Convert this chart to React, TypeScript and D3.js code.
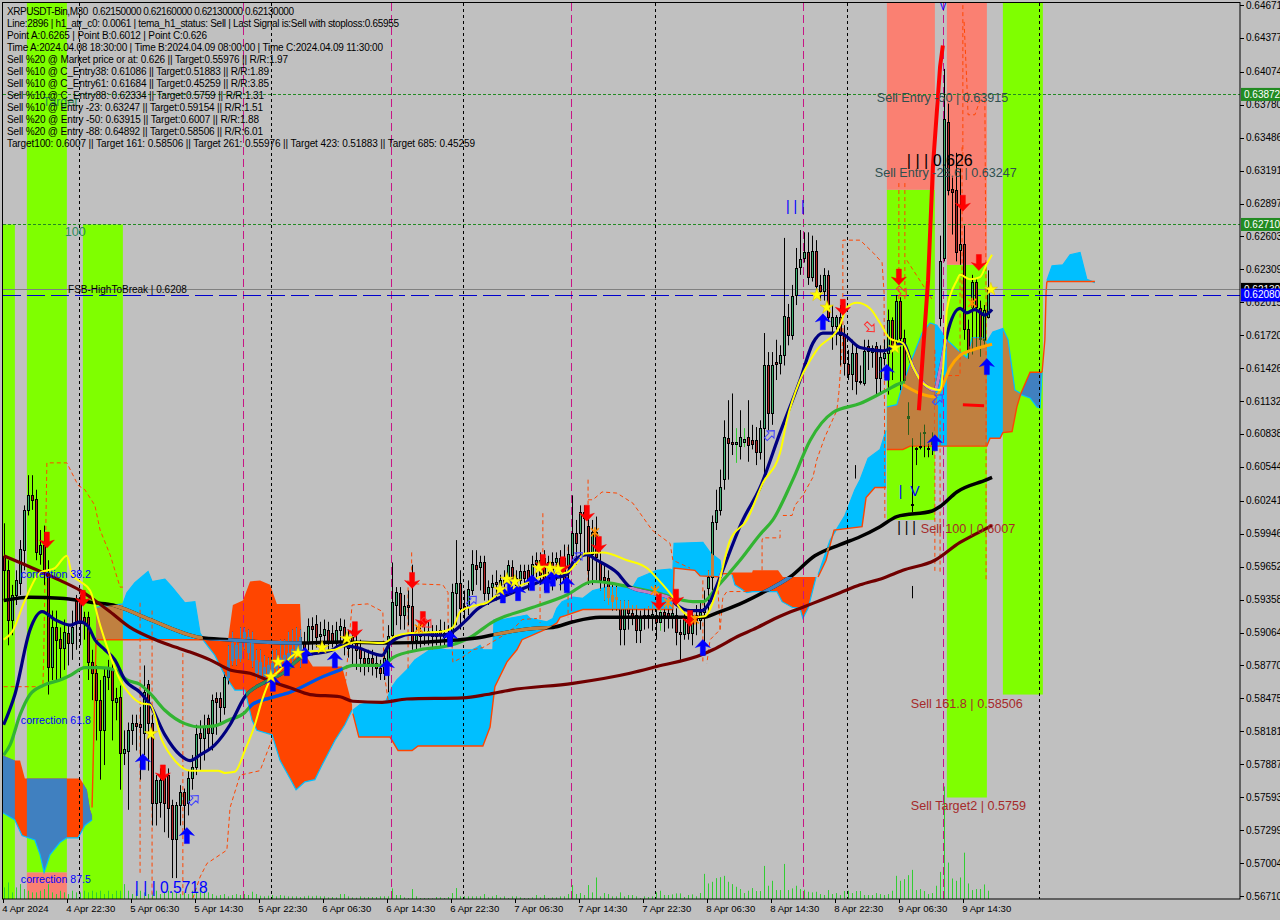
import React from "react";
import * as d3 from "d3";

type P = [number, number];
type Row = [number, number, number, number];

// Prices are in 1/10000 of a USDT; position on the time axis is the bar number (one bar = 30 minutes).
const candlesA: Row[] = [
[5975,6004,5935,5962],[5962,5971,5895,5918],[5918,5949,5904,5940],[5940,5962,5931,5953],[5951,5989,5940,5981],
[5980,6020,5962,6016],[6016,6047,6011,6029],[6029,6047,6016,6025],[6026,6034,5971,5978],[5977,5998,5967,5985],
[5985,6002,5949,5962],[5960,5971,5851,5876],[5876,5926,5864,5911],[5911,5926,5864,5900],[5901,5911,5864,5893],
[5893,5918,5873,5907],[5906,5913,5877,5897],[5897,5926,5882,5911],[5935,5940,5891,5916],[5935,5940,5895,5915],
[5920,5925,5900,5915],[5920,5925,5864,5880],[5880,5891,5846,5870],[5870,5877,5810,5846],[5846,5864,5775,5819],
[5819,5875,5788,5868],[5867,5882,5855,5876],[5873,5880,5810,5846],[5844,5857,5828,5848],[5849,5859,5766,5799],
[5799,5819,5788,5802],[5801,5826,5748,5819],[5819,5833,5806,5826],[5826,5833,5801,5823],[5825,5840,5775,5822],
[5817,5877,5797,5853],[5860,5864,5783,5826],[5826,5833,5734,5754],[5754,5779,5734,5775],[5755,5785,5741,5775],
[5779,5783,5728,5754],[5779,5785,5723,5750],[5752,5757,5687,5722],[5722,5755,5687,5752],[5752,5770,5734,5764],
[5764,5767,5730,5752],[5754,5783,5743,5776],[5776,5797,5766,5786],[5786,5824,5779,5816],[5817,5828,5783,5812],
];
const candlesB: Row[] = [
[5812,5833,5792,5822],[5830,5833,5801,5817],[5817,5851,5801,5846],[5848,5853,5815,5844],[5848,5853,5824,5840],
[5840,5871,5833,5867],[5867,5895,5860,5882],[5882,5907,5877,5897],[5895,5900,5877,5884],[5884,5911,5880,5897],
[5902,5911,5891,5907],[5902,5909,5882,5889],[5900,5907,5875,5882],[5882,5891,5864,5871],[5880,5891,5864,5868],
[5867,5886,5860,5876],[5877,5884,5864,5870],[5871,5891,5868,5879],[5879,5891,5868,5875],[5876,5900,5873,5884],
[5882,5900,5875,5886],[5888,5907,5877,5882],[5884,5909,5875,5892],[5886,5911,5882,5898],[5889,5909,5875,5902],
[5898,5907,5886,5893],[5898,5919,5889,5912],[5912,5920,5891,5910],[5914,5922,5893,5902],[5903,5916,5891,5905],
[5904,5918,5893,5910],[5909,5916,5891,5897],[5906,5913,5893,5897],[5897,5916,5893,5909],[5909,5919,5895,5912],
[5911,5918,5886,5900],[5893,5909,5884,5902],[5902,5909,5877,5897],[5897,5904,5873,5891],[5892,5900,5871,5884],
[5884,5891,5868,5879],[5879,5891,5871,5884],[5884,5891,5868,5879],[5879,5886,5866,5875],[5875,5882,5864,5870],
[5870,5891,5864,5884],[5882,5913,5853,5903],[5904,5969,5900,5934],[5931,5947,5913,5943],[5942,5947,5909,5922],
];
const candlesC: Row[] = [
[5922,5940,5909,5930],[5931,5944,5913,5929],[5930,5967,5891,5898],[5900,5913,5891,5904],[5907,5913,5893,5903],
[5904,5918,5895,5907],[5908,5916,5895,5905],[5907,5913,5891,5903],[5903,5913,5895,5907],[5909,5918,5893,5904],
[5902,5916,5895,5906],[5906,5913,5895,5900],[5904,5950,5895,5943],[5942,5989,5913,5951],[5951,5962,5909,5928],
[5930,5944,5918,5927],[5929,5953,5922,5945],[5944,5980,5940,5968],[5967,5980,5949,5963],[5965,5975,5944,5969],
[5969,5975,5935,5942],[5942,5953,5931,5947],[5947,5958,5935,5951],[5952,5962,5935,5950],[5949,5958,5940,5953],
[5953,5962,5935,5951],[5953,5971,5944,5967],[5965,5971,5944,5953],[5949,5962,5940,5955],[5953,5967,5944,5961],
[5961,5967,5949,5955],[5962,5967,5944,5953],[5958,5975,5949,5968],[5968,5978,5953,5971],[5971,5978,5949,5958],
[5973,5980,5944,5953],[5964,5975,5949,5969],[5969,5978,5944,5960],[5969,5978,5953,5973],[5973,5980,5944,5961],
[5973,5985,5944,5953],[5965,5985,5953,5977],[5976,6029,5971,5995],[5995,6007,5967,5986],[5995,6020,5971,6014],
[6014,6020,5975,6009],[6002,6016,5949,5962],[5977,6007,5949,5996],[5996,6010,5953,5974],[5969,5980,5944,5953],
];
const candlesD: Row[] = [
[5956,5967,5935,5953],[5955,5962,5931,5938],[5940,5949,5926,5935],[5936,5950,5926,5938],[5927,5935,5895,5910],
[5910,5935,5895,5927],[5928,5935,5909,5924],[5924,5931,5913,5920],[5922,5931,5897,5909],[5909,5926,5897,5919],
[5919,5928,5909,5922],[5922,5930,5910,5920],[5920,5932,5908,5923],[5922,5931,5900,5916],[5916,5930,5908,5925],
[5925,5931,5907,5922],[5924,5933,5910,5920],[5920,5933,5910,5924],[5922,5928,5895,5907],[5907,5918,5882,5905],
[5905,5925,5900,5919],[5919,5922,5900,5906],[5906,5925,5895,5919],[5922,5931,5904,5918],[5918,5935,5909,5925],
[5925,5944,5893,5928],[5946,5962,5925,5956],[5956,6011,5944,6005],[6005,6034,5998,6016],[6016,6052,6011,6036],
[6044,6096,6034,6081],[6080,6114,6043,6076],[6077,6120,6065,6075],[6075,6089,6058,6077],[6073,6105,6061,6081],
[6077,6089,6072,6079],[6081,6114,6059,6074],[6078,6092,6070,6075],[6078,6090,6056,6068],[6068,6096,6061,6089],
[6089,6174,6043,6145],[6145,6157,6087,6103],[6103,6157,6092,6145],[6148,6168,6132,6146],[6147,6163,6137,6154],
[6154,6259,6145,6189],[6188,6200,6163,6172],[6172,6217,6168,6207],[6208,6250,6199,6232],[6233,6266,6226,6240],
];
const candlesE: Row[] = [
[6241,6264,6237,6246],[6246,6264,6217,6224],[6224,6261,6220,6247],[6247,6257,6208,6216],[6217,6226,6203,6212],
[6212,6232,6203,6226],[6226,6230,6184,6188],[6180,6199,6159,6188],[6180,6190,6163,6188],[6188,6199,6145,6172],
[6172,6181,6136,6147],[6146,6159,6132,6137],[6137,6168,6123,6156],[6156,6163,6119,6131],[6131,6145,6128,6130],
[6129,6168,6127,6158],[6162,6168,6141,6158],[6157,6163,6143,6161],[6162,6166,6119,6134],[6134,6163,6119,6153],
[6152,6168,6145,6156],[6156,6195,6119,6186],[6186,6188,6132,6163],[6168,6208,6159,6203],[6203,6206,6123,6170],
[6170,6177,6128,6132],[6098,6112,6083,6100],[6020,6080,6014,6021],[6070,6072,6056,6071],[6072,6085,6070,6073],
[6085,6092,6063,6086],[6070,6075,6063,6071],[6075,6085,6065,6079],[6080,6120,6070,6110],[6187,6261,6180,6238],
[6241,6410,6238,6365],[6363,6379,6297,6302],[6303,6313,6262,6300],[6302,6335,6238,6246],[6248,6321,6235,6254],
[6254,6270,6168,6178],[6178,6186,6151,6157],[6197,6226,6155,6220],[6220,6222,6159,6197],[6196,6203,6153,6169],
[6168,6199,6163,6195],[6188,6230,6187,6215],
];
const limeWickBars = [164, 183, 185];

const volumesA = [35,50,20,35,45,30,25,20,20,25,30,45,20,15,25,20,15,25,20,20,25,20,25,20,25,15,25,15,25,25,45,25,15,25,25,20,15,20,25,15,20,25,20,18,15,20,15,25,20,35,25,20,15,10,12,15,8,12,15,12,15,12,22,15,10,8,10,12,8,12,10,8,8,8,6,8,10,8,10,8];
const volumesB = [8,5,6,5,15,15,8,5,4,8,5,6,6,6,8,8,8,32,12,12,5,3,30,8,3,3,3,2,6,5,3,6,18,33,8,8,8,8,8,8,15,5,8,12,5,8,3,8,8,5,3,3,5,12,5,12,3,5,5,8,8,15,42,15,18,12,42,20,65,8,18,15,8,8,20,8,12,12,8,3];
const volumesC = [8,6,8,20,25,12,12,14,17,17,6,12,14,8,18,76,47,52,63,66,70,52,45,37,30,18,25,33,24,24,100,40,55,27,27,106,27,32,40,30,28,22,20,22,15,12,27,15,18,12,24,25,18,24,24,12,12,12,18,15,12,15,25,70,55,60,72,88,27,30,24,15,18,40,82,340,110,62,55,65,140,47,27,30,30,44,25];

// Moving averages: [bar, price]
const maBlack: P[] = [[0,5935],[6.6,5938],[14.1,5937],[19.1,5935],[22.8,5933],[27.3,5931],[29.8,5928],[36.6,5918],[49.1,5902],[56.1,5900],[74.1,5897],[84.1,5898],[95.8,5897],[114.1,5900],[119.1,5902],[123.3,5905],[132.3,5910],[137.3,5911],[142.3,5916],[149.1,5920],[163.3,5920],[174.8,5920],[178.3,5924],[184.1,5932],[190.3,5943],[196.6,5956],[202.8,5975],[209.1,5985],[214.1,5992],[219.1,6001],[223.3,6010],[232.1,6015],[234.1,6019],[238.3,6032],[245.8,6043],[247.1,6045]];
const maDarkRed: P[] = [[0,5975],[6.6,5965],[14.1,5953],[19.1,5944],[22.8,5935],[26.6,5925],[31.6,5911],[36.6,5902],[41.6,5895],[46.6,5889],[51.6,5882],[56.6,5873],[61.6,5870],[66.6,5863],[71.6,5857],[76.6,5851],[84.1,5849],[87.3,5845],[94.6,5844],[100.8,5847],[114.8,5848],[120.8,5851],[126.6,5855],[142.3,5861],[156.6,5870],[163.3,5876],[174.8,5887],[177.3,5891],[184.1,5904],[187.3,5909],[194.1,5921],[199.8,5929],[204.1,5935],[209.1,5942],[214.1,5949],[219.8,5955],[224.8,5962],[232.8,5971],[239.1,5987],[243.3,5995],[247.1,6002]];
const maGreen: P[] = [[0,5797],[1.6,5806],[4.1,5833],[6.6,5851],[9.8,5859],[14.1,5864],[16.6,5868],[20.3,5875],[24.1,5875],[27.8,5873],[30.8,5864],[34.1,5860],[36.6,5852],[40.3,5837],[45.3,5825],[49.1,5822],[52.8,5823],[56.1,5828],[60.3,5835],[62.1,5842],[66.6,5848],[71.6,5853],[79.8,5867],[84.1,5873],[87.3,5877],[94.8,5877],[97.3,5884],[104.1,5891],[111.6,5895],[116.6,5902],[122.3,5916],[131.6,5928],[140.8,5940],[147.3,5952],[150.8,5951],[156.6,5947],[163.3,5942],[172.3,5934],[174.8,5934],[178.3,5947],[184.1,5971],[189.1,5994],[192.3,6007],[197.3,6043],[201.6,6078],[207.3,6103],[214.1,6111],[220.8,6123],[224.1,6129],[225.3,6130]];
const maNavy: P[] = [[0,5824],[2.8,5851],[6.6,5909],[9.6,5925],[12.8,5918],[16.6,5913],[19.1,5916],[21.1,5912],[22.8,5900],[25.3,5891],[27.8,5882],[30.3,5864],[34.1,5853],[36.6,5842],[40.3,5815],[44.1,5797],[46.6,5792],[49.1,5797],[52.8,5806],[56.6,5824],[60.3,5849],[65.3,5862],[69.8,5870],[74.8,5885],[82.3,5891],[84.1,5895],[88.3,5893],[94.6,5886],[96.6,5897],[98.6,5902],[102.1,5905],[109.8,5904],[112.3,5907],[115.8,5918],[118.3,5927],[121.6,5934],[125.8,5940],[130.8,5947],[135.8,5954],[140.8,5958],[142.3,5969],[145.8,5976],[148.3,5971],[153.3,5960],[156.6,5947],[161.6,5942],[166.6,5937],[168.3,5931],[171.6,5926],[174.6,5926],[176.6,5934],[179.1,5956],[184.8,6007],[189.1,6036],[194.1,6085],[199.1,6132],[202.3,6165],[204.8,6174],[209.1,6174],[214.1,6161],[219.8,6158],[222.1,6161],[224.8,6165],[227.3,6144],[230.3,6128],[232.8,6123],[234.1,6141],[235.8,6172],[239.1,6196],[240.8,6192],[242.8,6195],[245.3,6190],[247.1,6195]];
const maYellow: P[] = [[0,5900],[2.1,5907],[5.3,5935],[9.1,5960],[12.8,5964],[15.8,5975],[17.1,5958],[19.1,5952],[21.6,5944],[24.1,5913],[26.6,5886],[29.1,5864],[31.6,5851],[34.6,5843],[36.6,5842],[39.6,5810],[42.8,5792],[46.6,5783],[53.6,5783],[55.3,5781],[57.8,5782],[60.3,5801],[62.8,5824],[64.6,5846],[66.6,5864],[69.1,5873],[71.6,5884],[74.1,5889],[82.8,5891],[84.1,5893],[88.3,5898],[94.8,5897],[97.8,5903],[101.6,5906],[109.1,5907],[112.3,5911],[114.1,5925],[117.3,5930],[120.8,5933],[123.3,5940],[128.3,5947],[135.8,5958],[140.8,5960],[143.3,5969],[145.3,5977],[149.8,5978],[155.8,5971],[160.8,5964],[163.3,5955],[167.3,5938],[169.1,5928],[172.3,5920],[175.3,5921],[178.3,5944],[181.6,5989],[185.8,6007],[189.8,6040],[194.1,6067],[195.8,6096],[199.1,6132],[203.3,6159],[209.1,6181],[210.8,6197],[213.3,6201],[216.6,6196],[219.1,6183],[221.6,6169],[224.8,6165],[227.3,6144],[229.8,6129],[234.1,6123],[235.3,6165],[235.8,6195],[238.3,6221],[239.1,6226],[241.6,6222],[244.1,6224],[245.8,6236],[247.1,6244]];
const maOrange: P[] = [[224.8,6128],[229.1,6120],[232.8,6117],[234.6,6126],[236.6,6143],[239.1,6154],[242.3,6159],[247.1,6164]];
const zigzagRed: P[] = [[228.8,6105],[231.1,6221],[232.3,6322],[234.1,6412],[234.8,6431]];
const shortRed: P[] = [[239.8,6110],[245.1,6109]];

// Cloud outlines: upper and lower edge, [bar, price]
const cloud1Top: P[] = [[-0.5,5797],[2.8,5792],[4.1,5792],[5.3,5776],[15.8,5776],[19.1,5776],[20.8,5766],[21.6,5748],[22.1,5743]];
const cloud1Bottom: P[] = [[-0.5,5746],[2.8,5739],[4.6,5725],[7.8,5721],[9.1,5708],[10.1,5692],[11.6,5708],[14.1,5719],[15.8,5723],[18.6,5723],[20.3,5734],[22.1,5739]];
const cloud2Top: P[] = [[23.1,5929],[29.8,5932],[30.8,5942],[32.8,5951],[36.1,5961],[37.1,5952],[40.3,5954],[42.1,5947],[45.3,5933],[47.8,5934],[49.1,5906],[49.8,5902]];
const cloud2Bottom: P[] = [[23.1,5900],[49.8,5900]];
const cloud3Top: P[] = [[49.8,5900],[56.1,5900],[57.3,5931],[59.8,5935],[61.6,5952],[64.1,5953],[66.6,5949],[68.3,5932],[74.1,5932],[74.6,5891],[77.3,5876],[84.6,5876],[87.1,5842]];
const cloud3Bottom: P[] = [[49.8,5900],[52.8,5886],[55.3,5868],[57.8,5855],[60.3,5855],[62.1,5828],[63.3,5819],[67.1,5815],[69.1,5792],[71.6,5776],[73.1,5766],[75.3,5773],[77.8,5775],[79.6,5788],[82.8,5810],[85.3,5824],[87.1,5837]];
const cloud4Top: P[] = [[87.3,5837],[89.1,5842],[91.6,5844],[95.3,5843],[97.1,5858],[98.3,5864],[100.8,5873],[102.8,5882],[105.3,5888],[107.3,5893],[110.8,5891],[117.1,5891],[118.3,5893],[119.1,5895],[119.8,5891],[122.3,5891],[122.6,5918],[124.8,5918],[130.8,5922],[131.6,5919],[135.8,5916],[137.3,5919],[138.3,5928],[139.6,5934],[142.3,5938],[144.8,5937],[147.3,5944],[150.8,5947],[157.3,5947],[158.6,5955],[163.3,5962],[166.6,5963],[167.3,5962],[167.6,5986],[174.8,5987],[176.6,5978],[179.1,5971],[179.6,5956]];
const cloud4Bottom: P[] = [[87.3,5834],[88.8,5813],[96.6,5813],[98.6,5801],[102.1,5801],[103.6,5805],[119.8,5805],[121.6,5822],[122.8,5858],[125.8,5880],[128.3,5891],[129.6,5900],[136.6,5911],[138.3,5915],[139.1,5920],[140.8,5922],[144.8,5927],[167.3,5927],[167.6,5964],[172.8,5962],[174.1,5957],[179.6,5956]];
const cloud5Top: P[] = [[182.1,5960],[187.1,5960],[187.3,5962],[193.6,5962],[194.8,5956],[203.1,5956]];
const cloud5Bottom: P[] = [[182.1,5958],[182.8,5949],[185.8,5942],[187.3,5943],[193.3,5943],[194.6,5934],[197.1,5929],[199.1,5928],[199.8,5919],[201.1,5928],[203.1,5956]];
const cloud6Top: P[] = [[203.6,5958],[206.6,5989],[210.3,6011],[212.8,6034],[214.1,6043],[216.1,6062],[219.1,6070],[220.6,6087]];
const cloud6Bottom: P[] = [[203.6,5956],[205.6,5971],[207.6,5998],[214.6,6001],[215.6,6027],[217.8,6036],[220.6,6036]];
const cloud7Top: P[] = [[220.8,6108],[223.3,6110],[224.8,6129],[227.3,6153],[229.6,6174],[231.6,6183],[233.3,6181],[235.8,6168],[239.1,6157],[240.8,6152],[242.1,6170],[244.8,6170],[245.8,6166],[247.3,6175],[249.8,6178],[251.1,6168],[252.8,6123],[254.3,6120]];
const cloud7Bottom: P[] = [[220.8,6070],[224.8,6070],[226.6,6073],[245.8,6073],[246.6,6080],[249.1,6080],[249.8,6085],[252.1,6086],[253.3,6108],[254.3,6120]];
const cloud8Top: P[] = [[254.3,6120],[256.6,6139],[259.6,6139]];
const cloud8Bottom: P[] = [[254.3,6119],[256.6,6116],[258.3,6108],[259.1,6107],[259.6,6139]];
const cloud9Top: P[] = [[260.8,6221],[262.1,6234],[264.8,6235],[266.6,6244],[269.1,6246],[270.8,6222],[272.8,6219]];
const cloud9Bottom: P[] = [[260.8,6220],[272.8,6220]];
const riserLeft: P[] = [[22.1,5750],[23.1,5900]];
const riserRight: P[] = [[259.6,6139],[259.8,6147],[260.3,6168],[260.6,6210],[260.8,6220]];
const cloudLink: P[] = [[179.6,5959],[182.1,5959]];

// Coloured session bands: [startBar, endBar, lowPrice, highPrice]
const greenBands: Row[] = [[-0.5,2.8,5640,6271],[5.8,15.8,5692,6490],[19.8,29.8,5640,6271],[220.8,232.8,6007,6302],[235.8,245.8,5759,6235],[249.8,259.8,5851,6490]];
const salmonBands: Row[] = [[5.8,15.8,5640,5692],[220.8,232.8,6302,6490],[235.8,245.8,6235,6490]];

const blackVerticals = [18.8,66.8,114.8,162.8,210.8,258.8];
const magentaVerticals = [59.8,96.8,141.8,199.8,234.8];

// Thin dashed envelopes: [bar, price]
const dashA: P[] = [[0,5858],[9.8,5858],[10,5882],[10.8,6058],[15.8,6058],[18.6,6038],[20.3,6034],[22.8,6020],[24.1,5998],[26.6,5976],[29.1,5947],[29.8,5947]];
const dashB: P[] = [[34.1,5933],[34.1,5691]];
const dashC: P[] = [[37.1,5926],[37.1,5669]];
const dashD: P[] = [[44.8,5888],[44.8,5669]];
const dashE: P[] = [[47.3,5669],[49.1,5688],[50.8,5700],[55.8,5712],[56.6,5750],[59.1,5779],[64.1,5783],[67.3,5813]];
const dashF: P[] = [[85.3,5855],[87.1,5931],[91.1,5932],[94.8,5925],[95.1,5871],[96.1,5846]];
const dashG: P[] = [[102,5978],[102,5950],[109.8,5949],[111.1,5942],[111.1,5902]];
const dashH: P[] = [[101.1,5953],[101.1,5873]];
const dashI: P[] = [[112,5902],[112.3,5880],[114.6,5884],[117.3,5891],[119.8,5893],[124.1,5902],[127.8,5911],[129.6,5918],[133.3,5919]];
const dashJ: P[] = [[134.8,6013],[134.8,5953]];
const dashK: P[] = [[134.1,5947],[134.1,5915]];
const dashL: P[] = [[141.1,5983],[141.1,5920]];
const dashM: P[] = [[146.1,6043],[146.1,5951]];
const dashN: P[] = [[146.1,6025],[147.3,6025],[149.6,6032],[153.3,6031],[157.3,6022],[162.1,5998],[166.6,5986],[167.3,5971],[171.6,5964]];
const dashO: P[] = [[174.8,5953],[174.8,5879]];
const dashP: P[] = [[179.1,5909],[179.8,5938],[180.8,5943],[185.8,5943]];
const dashQ: P[] = [[178.6,5944],[179.1,5909],[176.6,5900],[175.8,5879]];
const dashR: P[] = [[194.8,6011],[197.1,6011],[197.8,6020],[199.8,6029],[202.3,6045],[203.3,6061],[205.3,6081],[208.3,6105],[208.8,6121],[209.8,6170],[209.8,6257],[214.1,6257],[217.3,6246],[219.6,6237],[220.1,6210],[220.3,6007]];
const dashS: P[] = [[223.8,6308],[223.8,6203]];
const dashT: P[] = [[225.3,6308],[225.3,6203]];
const dashU: P[] = [[225.8,6239],[232.3,6203]];
const dashV: P[] = [[236.1,6136],[239.1,6136],[239.1,6226]];
const dashW: P[] = [[239.6,6340],[239.6,6203]];
const dashX: P[] = [[239.8,6467],[239.8,6329]];
const dashY: P[] = [[240.1,6452],[240.8,6397],[241.1,6369],[242.8,6369],[244.1,6382],[245.3,6382],[245.6,6203],[245.6,5953]];
const dashZ: P[] = [[232.8,6159],[232.8,5960]];
const dashAA: P[] = [[234.1,6102],[234.1,5960]];
const dashAB: P[] = [[189.6,5962],[189.6,5989],[189.8,5991],[194.1,5991],[194.1,5998]];

// Signal markers: [bar, price]
const redArrows: P[] = [[10.8,5989],[19.8,5937],[39.8,5781],[87.8,5909],[102.1,5953],[104.8,5918],[134.8,5969],[139.8,5967],[145.8,6013],[148.8,5985],[163.8,5934],[168.1,5938],[171.6,5919],[209.8,6197],[223.8,6224],[239.8,6290],[243.8,6237]];
const blueArrows: P[] = [[34.8,5791],[45.8,5725],[67.3,5861],[70.8,5875],[75.3,5886],[82.8,5882],[95.8,5875],[111.6,5901],[124.8,5940],[126.6,5949],[128.6,5942],[132.1,5951],[135.8,5949],[137.3,5955],[140.8,5949],[174.8,5893],[204.8,6184],[220.8,6139],[232.8,6076],[245.8,6144]];
const stars: P[] = [[36.8,5816],[66.8,5867],[68.6,5880],[73.6,5888],[79.6,5893],[85.8,5901],[124.1,5945],[125.8,5954],[127.8,5952],[133.8,5964],[136.6,5964],[138.6,5963],[203.3,6208],[205.8,6197],[222.8,6161],[246.8,6213]];
const orangeCrosses: P[] = [[103.8,5910],[147.8,5996],[162.8,5944],[166.1,5933],[172.8,5918],[242.1,6201]];
const hollowBlue: P[] = [[47.6,5757],[117.1,5935],[143.6,5974],[191.6,6083],[233.6,6115]];
const hollowRed: P[] = [[105.8,5915],[216.6,6179],[224.6,6211]];
const strayTicks: Row[] = [[212.8,6056,6044,0],[227.1,5948,5937,0]];

const priceTicks = [6467.1,6437.7,6407.4,6378.0,6348.6,6319.1,6289.7,6260.3,6230.9,6201.5,6172.0,6142.6,6113.2,6083.8,6054.4,6024.1,5994.6,5965.2,5935.8,5906.4,5877.0,5847.5,5818.1,5788.7,5759.3,5729.9,5700.4,5671.0];
const timeTicks = [0,16,32,48,64,80,96,112,128,144,160,176,192,208,224,240];
const timeLabels = ["4 Apr 2024","4 Apr 22:30","5 Apr 06:30","5 Apr 14:30","5 Apr 22:30","6 Apr 06:30","6 Apr 14:30","6 Apr 22:30","7 Apr 06:30","7 Apr 14:30","7 Apr 22:30","8 Apr 06:30","8 Apr 14:30","8 Apr 22:30","9 Apr 06:30","9 Apr 14:30"];

const infoLines = [
"XRPUSDT-Bin,M30  0.62150000 0.62160000 0.62130000 0.62130000",
"Line:2896 | h1_atr_c0: 0.0061 | tema_h1_status: Sell | Last Signal is:Sell with stoploss:0.65955",
"Point A:0.6265 | Point B:0.6012 | Point C:0.626",
"Time A:2024.04.08 18:30:00 | Time B:2024.04.09 08:00:00 | Time C:2024.04.09 11:30:00",
"Sell %20 @ Market price or at: 0.626 || Target:0.55976 || R/R:1.97",
"Sell %10 @ C_Entry38: 0.61086 || Target:0.51883 || R/R:1.89",
"Sell %10 @ C_Entry61: 0.61684 || Target:0.45259 || R/R:3.85",
"Sell %10 @ C_Entry88: 0.62334 || Target:0.5759 || R/R:1.31",
"Sell %10 @ Entry -23: 0.63247 || Target:0.59154 || R/R:1.51",
"Sell %20 @ Entry -50: 0.63915 || Target:0.6007 || R/R:1.88",
"Sell %20 @ Entry -88: 0.64892 || Target:0.58506 || R/R:6.01",
"Target100: 0.6007 || Target 161: 0.58506 || Target 261: 0.55976 || Target 423: 0.51883 || Target 685: 0.45259",
];
const infoWidths = [287,392,200,376,281,262,262,257,256,252,256,468];

type Note = [number, number, string, string, number];
const notes: Note[] = [
[218.3,6380,"Sell Entry -50 | 0.63915","#2F4F4F",12.6],
[217.8,6313,"Sell Entry -23.6 | 0.63247","#2F4F4F",12.6],
[225.8,6323,"| | | 0.626","#000000",16],
[229.3,5995,"Sell 100 | 0.6007","#A52A2A",12.6],
[226.8,5839,"Sell 161.8 | 0.58506","#A52A2A",12.6],
[226.8,5748,"Sell Target2 | 0.5759","#A52A2A",12.6],
[4.3,5955,"correction 38.2","#0000FF",10.6],
[4.3,5825,"correction 61.8","#0000FF",10.6],
[4.3,5683,"correction 87.5","#0000FF",10.6],
[32.8,5674,"| | | 0.5718","#0000FF",15.6],
[15.3,6261,"100","#2E8B57",12.6],
[9.8,6377,"Target","#2E8B57",12.6],
[16.1,6210,"FSB-HighToBreak | 0.6208","#000000",10],
[195.6,6283,"| | |","#0000FF",14],
[223.8,6028,"|  V","#0000FF",14],
[223.4,5996,"| | |","#000000",14],
[234,6463,"V","#0000FF",10],
];

const candles: Row[] = [...candlesA, ...candlesB, ...candlesC, ...candlesD, ...candlesE];
const volumes = [...volumesA, ...volumesB, ...volumesC];

const x = d3.scaleLinear().domain([0, 100]).range([3.67, 403.67]);
const y = d3.scaleLinear().domain([5671, 6467.1]).range([896, 5]);
const volY = d3.scaleLinear().domain([0, 340]).range([899, 786.5]);
const line = d3.line<P>().x((d) => x(d[0])).y((d) => y(d[1]));
const smooth = d3.line<P>().x((d) => x(d[0])).y((d) => y(d[1])).curve(d3.curveMonotoneX);
const poly = (top: P[], bottom: P[]) => line([...top, ...[...bottom].reverse()])! + "Z";

const cyanClouds = [[cloud2Top, cloud2Bottom],[cloud4Top, cloud4Bottom],[cloud6Top, cloud6Bottom],[cloud7Top, cloud7Bottom],[cloud9Top, cloud9Bottom]];
const redClouds = [[cloud1Top, cloud1Bottom],[cloud3Top, cloud3Bottom],[cloud5Top, cloud5Bottom],[cloud8Top, cloud8Bottom]];
const cyanPath = cyanClouds.map(([t, b]) => poly(t, b)).join("");
const redPath = redClouds.map(([t, b]) => poly(t, b)).join("");
const orangeEdges = [cloud2Bottom, cloud4Bottom, cloud6Bottom, cloud7Bottom, cloud8Top, cloud9Bottom, cloud3Top.slice(0, 2), riserLeft, riserRight, cloudLink];
const cyanEdges = [cloud1Bottom, cloud2Top, cloud3Bottom, cloud4Top, cloud5Bottom, cloud6Top, cloud7Top, cloud8Bottom, cloud9Top];
const dashes = [dashA,dashB,dashC,dashD,dashE,dashF,dashG,dashH,dashI,dashJ,dashK,dashL,dashM,dashN,dashO,dashP,dashQ,dashR,dashS,dashT,dashU,dashV,dashW,dashX,dashY,dashZ,dashAA,dashAB];

const FONT = "'Liberation Sans', Arial, sans-serif";
const UP_ARROW = "M0,-8L7.5,0L2.5,-1.5L2.5,8L-2.5,8L-2.5,-1.5L-7.5,0Z";
const HOLLOW = "M0,-6L5,-0.5L2,-0.5L2,6L-2,6L-2,-0.5L-5,-0.5Z";
const STAR = d3.symbol().type(d3.symbolStar).size(55)()!;

function CandleMarks({ color }: { color?: string }) {
  return (
    <g>
      {candles.map(([o, h, l, c], i) => {
        const cx = Math.round(x(i)) + 0.5;
        const top = Math.round(y(Math.max(o, c)));
        const bot = Math.round(y(Math.min(o, c)));
        const fill = c >= o ? "#3CB371" : "#B22222";
        const wick = limeWickBars.includes(i) ? "#32CD32" : "#000";
        return (
          <g key={i}>
            <line x1={cx} x2={cx} y1={y(h)} y2={y(l)} stroke={color ?? wick} />
            <rect x={cx - 1} y={top + 0.5} width={2} height={Math.max(bot - top, 1)} fill={color ?? fill} stroke={color ?? "#000"} />
          </g>
        );
      })}
    </g>
  );
}

const MaLine = ({ data, color, w }: { data: P[]; color: string; w: number }) => (
  <path d={smooth(data)!} fill="none" stroke={color} strokeWidth={w} strokeLinejoin="round" />
);

const Band = ({ b, fill }: { b: Row; fill: string }) => (
  <rect x={x(b[0])} width={x(b[1]) - x(b[0])} y={y(b[3])} height={y(b[2]) - y(b[3])} fill={fill} />
);

export default function App() {
  return (
    <svg width={1280} height={920} style={{ position: "fixed", left: 0, top: 0, display: "block" }} fontFamily={FONT}>
      <defs>
        <clipPath id="plot"><rect x={3} y={3} width={1237} height={896} /></clipPath>
        <clipPath id="bands">
          {greenBands.map((b, i) => <rect key={i} x={x(b[0])} width={x(b[1]) - x(b[0])} y={0} height={920} />)}
        </clipPath>
        <clipPath id="cyan"><path d={cyanPath} /></clipPath>
        <clipPath id="red"><path d={redPath} /></clipPath>
      </defs>
      <rect width={1280} height={920} fill="#C0C0C0" />
      <g clipPath="url(#plot)">
        {greenBands.map((b, i) => <Band key={i} b={b} fill="#7FFF00" />)}
        {salmonBands.map((b, i) => <Band key={i} b={b} fill="#FA8072" />)}

        <path d={cyanPath} fill="#00BFFF" />
        <path d={redPath} fill="#FF4500" />
        <g clipPath="url(#bands)">
          <path d={cyanPath} fill="#C08040" />
          <path d={redPath} fill="#4080C0" />
        </g>
        {cyanEdges.map((d, i) => <path key={i} d={line(d)!} fill="none" stroke="#00BFFF" strokeWidth={1.2} />)}
        {orangeEdges.map((d, i) => <path key={i} d={line(d)!} fill="none" stroke="#FF4500" strokeWidth={1.4} />)}

        {blackVerticals.map((b) => <line key={b} x1={Math.round(x(b)) + 0.5} x2={Math.round(x(b)) + 0.5} y1={3} y2={899} stroke="#000" strokeDasharray="3 3" />)}
        {magentaVerticals.map((b) => <line key={b} x1={Math.round(x(b)) + 0.5} x2={Math.round(x(b)) + 0.5} y1={3} y2={899} stroke="#C71585" strokeDasharray="8 4" />)}

        <line x1={3} x2={1240} y1={Math.round(y(6387.2)) + 0.5} y2={Math.round(y(6387.2)) + 0.5} stroke="#228B22" strokeDasharray="3 2" />
        <line x1={3} x2={1240} y1={Math.round(y(6271)) + 0.5} y2={Math.round(y(6271)) + 0.5} stroke="#228B22" strokeDasharray="3 2" />
        <line x1={3} x2={1240} y1={Math.round(y(6213)) + 0.5} y2={Math.round(y(6213)) + 0.5} stroke="#808080" />
        <line x1={3} x2={1240} y1={Math.round(y(6208)) + 0.5} y2={Math.round(y(6208)) + 0.5} stroke="#0000CD" strokeDasharray="18 6" />

        {volumes.map((v, i) => (
          <line key={i} x1={Math.round(x(i)) + 0.5} x2={Math.round(x(i)) + 0.5} y1={899} y2={volY(v)} stroke="#32CD32" />
        ))}

        {dashes.map((d, i) => <path key={i} d={line(d)!} fill="none" stroke="#FF4500" strokeDasharray="4 3" />)}

        <CandleMarks />
        <g clipPath="url(#cyan)"><CandleMarks color="#C08040" /></g>
        <g clipPath="url(#bands)"><g clipPath="url(#cyan)"><CandleMarks color="#2E5E1A" /></g></g>
        <g clipPath="url(#red)"><CandleMarks color="#4682B4" /></g>
        {strayTicks.map((t, i) => <line key={i} x1={Math.round(x(t[0])) + 0.5} x2={Math.round(x(t[0])) + 0.5} y1={y(t[1])} y2={y(t[2])} stroke="#000" />)}

        <MaLine data={maGreen} color="#32B432" w={3.2} />
        <g clipPath="url(#red)"><MaLine data={maGreen} color="#0050F0" w={3.2} /></g>
        <MaLine data={maBlack} color="#000" w={3.5} />
        <g clipPath="url(#red)"><MaLine data={maBlack} color="#4080C0" w={3.5} /></g>
        <g clipPath="url(#cyan)"><MaLine data={maBlack} color="#C08040" w={3.5} /></g>
        <MaLine data={maDarkRed} color="#700000" w={3.2} />
        <MaLine data={maNavy} color="#000080" w={3.2} />
        <g clipPath="url(#red)"><MaLine data={maNavy} color="#2E8B57" w={3.2} /></g>
        <g clipPath="url(#cyan)"><MaLine data={maNavy} color="#C080C0" w={3.2} /></g>
        <MaLine data={maOrange} color="#FFA500" w={3} />
        <MaLine data={maYellow} color="#FFFF00" w={2} />
        <path d={line(zigzagRed)!} fill="none" stroke="#FF0000" strokeWidth={4} />
        <path d={line(shortRed)!} fill="none" stroke="#FF0000" strokeWidth={3} />

        {redArrows.map((p, i) => <path key={i} d={UP_ARROW} fill="#FF0000" stroke="#FF0000" strokeWidth={0.5} transform={`translate(${x(p[0])},${y(p[1])}) rotate(180)`} />)}
        {blueArrows.map((p, i) => <path key={i} d={UP_ARROW} fill="#0000FF" stroke="#0000FF" strokeWidth={0.5} transform={`translate(${x(p[0])},${y(p[1])})`} />)}
        {stars.map((p, i) => <path key={i} d={STAR} fill="#FFFF00" stroke="#E0C000" strokeWidth={0.5} transform={`translate(${x(p[0])},${y(p[1])})`} />)}
        {orangeCrosses.map((p, i) => <path key={i} d="M-4,-4L4,4M-4,4L4,-4M0,-5V5" fill="none" stroke="#FF8C00" strokeWidth={1.6} transform={`translate(${x(p[0])},${y(p[1])})`} />)}
        {hollowBlue.map((p, i) => <path key={i} d={HOLLOW} fill="none" stroke="#4040FF" transform={`translate(${x(p[0])},${y(p[1])}) rotate(45)`} />)}
        {hollowRed.map((p, i) => <path key={i} d={HOLLOW} fill="none" stroke="#FF3030" transform={`translate(${x(p[0])},${y(p[1])}) rotate(135)`} />)}

        {notes.map(([b, v, t, c, s], i) => (
          <text key={i} x={x(b)} y={y(v)} fill={c} fontSize={s} xmlSpace="preserve">{t}</text>
        ))}
      </g>

      {infoLines.map((t, i) => (
        <text key={i} x={7} y={15 + 12 * i} fontSize={10} fill="#000" xmlSpace="preserve" textLength={infoWidths[i]} lengthAdjust="spacing">{t}</text>
      ))}

      <rect x={2.5} y={2.5} width={1237.5} height={896.5} fill="none" stroke="#000" />

      {priceTicks.map((p) => (
        <g key={p}>
          <line x1={1240} x2={1244} y1={Math.round(y(p)) + 0.5} y2={Math.round(y(p)) + 0.5} stroke="#000" />
          <text x={1246} y={y(p) + 3.5} fontSize={10} fill="#000">{(p / 10000).toFixed(5)}</text>
        </g>
      ))}
      {timeTicks.map((b, i) => (
        <g key={b}>
          <line x1={Math.round(x(b)) - 0.5} x2={Math.round(x(b)) - 0.5} y1={899} y2={903} stroke="#000" />
          <text x={x(b) - 1.5} y={912} fontSize={9.6} fill="#000">{timeLabels[i]}</text>
        </g>
      ))}

      <rect x={1241} y={y(6387.2) - 6.5} width={39} height={13} fill="#228B22" />
      <text x={1244} y={y(6387.2) + 3.5} fontSize={10} fill="#fff">0.63872</text>
      <rect x={1241} y={y(6271) - 6.5} width={39} height={13} fill="#228B22" />
      <text x={1244} y={y(6271) + 3.5} fontSize={10} fill="#fff">0.62710</text>
      <rect x={1241} y={y(6213) - 6.5} width={39} height={13} fill="#000" />
      <text x={1244} y={y(6213) + 3.5} fontSize={10} fill="#fff">0.62130</text>
      <rect x={1241} y={y(6208) - 6.5} width={39} height={13} fill="#0000FF" />
      <text x={1244} y={y(6208) + 3.5} fontSize={10} fill="#fff">0.62080</text>
    </svg>
  );
}
